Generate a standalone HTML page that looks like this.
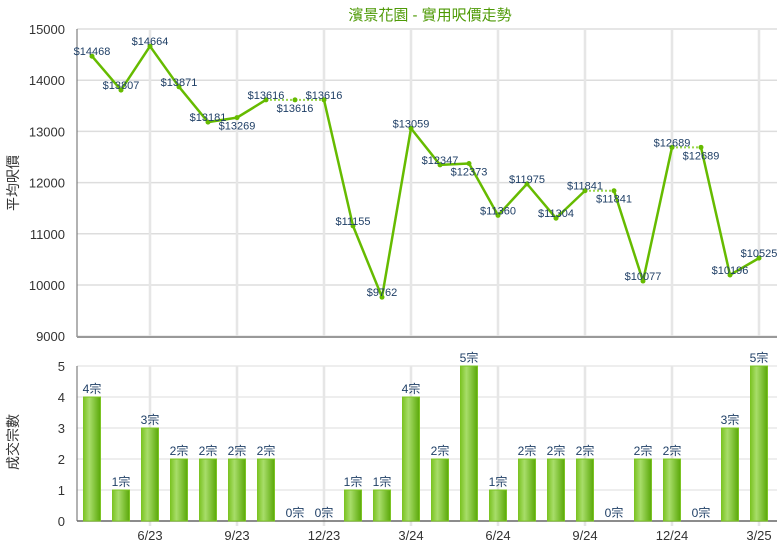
<!DOCTYPE html>
<html><head><meta charset="utf-8"><style>
body{margin:0;background:#fff;}
svg{display:block;font-family:"Liberation Sans","Noto Sans CJK TC",sans-serif;}
</style></head><body>
<svg id="c" width="780" height="550">
<defs><linearGradient id="bg" x1="0" x2="1" y1="0" y2="0">
<stop offset="0" stop-color="#7cc424"/><stop offset="0.35" stop-color="#a8dd6a"/><stop offset="1" stop-color="#5aa808"/></linearGradient></defs>
<text x="430" y="20" text-anchor="middle" font-size="15" fill="#4e9a06">濱景花園 - 實用呎價走勢</text>
<text transform="translate(18,183) rotate(-90)" text-anchor="middle" font-size="14" fill="#333">平均呎價</text>
<text transform="translate(18,442) rotate(-90)" text-anchor="middle" font-size="14" fill="#333">成交宗數</text>
<g id="g"></g>
</svg>
<script>
const months=["4/23","5/23","6/23","7/23","8/23","9/23","10/23","11/23","12/23","1/24","2/24","3/24","4/24","5/24","6/24","7/24","8/24","9/24","10/24","11/24","12/24","1/25","2/25","3/25"];
const prices=[14468,13807,14664,13871,13181,13269,13616,13616,13616,11155,9762,13059,12347,12373,11360,11975,11304,11841,11841,10077,12689,12689,10196,10525];
const counts=[4,1,3,2,2,2,2,0,0,1,1,4,2,5,1,2,2,2,0,2,2,0,3,5];
const priceTicks=[9000,10000,11000,12000,13000,14000,15000];
const countTicks=[0,1,2,3,4,5];
const tickMonths=["6/23","9/23","12/23","3/24","6/24","9/24","12/24","3/25"];
const labelBelow=[5,7,13,18,21];
const NS="http://www.w3.org/2000/svg";
const g=document.getElementById('g');
function mk(t,a,txt){const e=document.createElementNS(NS,t);for(const k in a)e.setAttribute(k,a[k]);if(txt!=null)e.textContent=txt;g.appendChild(e);return e;}
const L=77,R=777;
const x=i=>92+i*29;
const yP=v=>29+(15000-v)/1000*51.2;
const yC=v=>521-v*31;
priceTicks.forEach(t=>{
 const l=mk('line',{x1:L,x2:R,y1:yP(t),y2:yP(t),stroke:'#ddd','stroke-width':1.5});
 
 
 const tx=mk('text',{x:L-12,y:yP(t)+5,'text-anchor':'end','font-size':13,fill:'#333'},t);
 
 
});
countTicks.forEach(t=>{
 const l=mk('line',{x1:L,x2:R,y1:yC(t),y2:yC(t),stroke:'#ddd','stroke-width':1});
 
 
 const tx=mk('text',{x:L-12,y:yC(t)+5,'text-anchor':'end','font-size':13,fill:'#333'},t);
 
 
});
tickMonths.forEach(m=>{
 const i=months.indexOf(m);
 const v1=mk('line',{x1:x(i),x2:x(i),y1:29,y2:337,stroke:'#e6e6e6','stroke-width':2.5});
 
 
 const v2=mk('line',{x1:x(i),x2:x(i),y1:yC(5),y2:526,stroke:'#e6e6e6','stroke-width':2.5});
 
 
 const tx=mk('text',{x:x(i),y:540,'text-anchor':'middle','font-size':13,fill:'#333'},m);
 
 
});
const a1=mk('line',{x1:L,x2:L,y1:29,y2:337,stroke:'#666','stroke-width':1});


const a2=mk('line',{x1:L,x2:R,y1:337,y2:337,stroke:'#999','stroke-width':2});


const a3=mk('line',{x1:L,x2:L,y1:yC(5),y2:521,stroke:'#666','stroke-width':1});


const a4=mk('line',{x1:L,x2:R,y1:521,y2:521,stroke:'#666','stroke-width':1.5});


counts.forEach((c,i)=>{
 if(c>0){const b=mk('rect',{x:x(i)-8.5,y:yC(c),width:17,height:yC(0)-yC(c),fill:'url(#bg)',stroke:'#7cc424','stroke-width':1});
 
 }
 const t=mk('text',{x:x(i),y:yC(c)-4,'text-anchor':'middle','font-size':12,fill:'#1f3f66'},c+'宗');
 
 
});
for(let i=1;i<prices.length;i++){
 const dotted=counts[i]===0;
 const s=mk('line',{x1:x(i-1),y1:yP(prices[i-1]),x2:x(i),y2:yP(prices[i]),stroke:dotted?'#9ad84a':'#66bb00','stroke-width':dotted?2:2.5,'stroke-dasharray':dotted?'2,2':'none'});
 
 
}
prices.forEach((p,i)=>{
 const d=mk('circle',{cx:x(i),cy:yP(p),r:2.5,fill:'#66bb00'});
 
 
 const below=labelBelow.includes(i);
 const t=mk('text',{x:x(i),y:yP(p)+(below?12:-1),'text-anchor':'middle','font-size':11,fill:'#1f3f66'},'$'+p);
 
 
});
</script>
</body></html>
